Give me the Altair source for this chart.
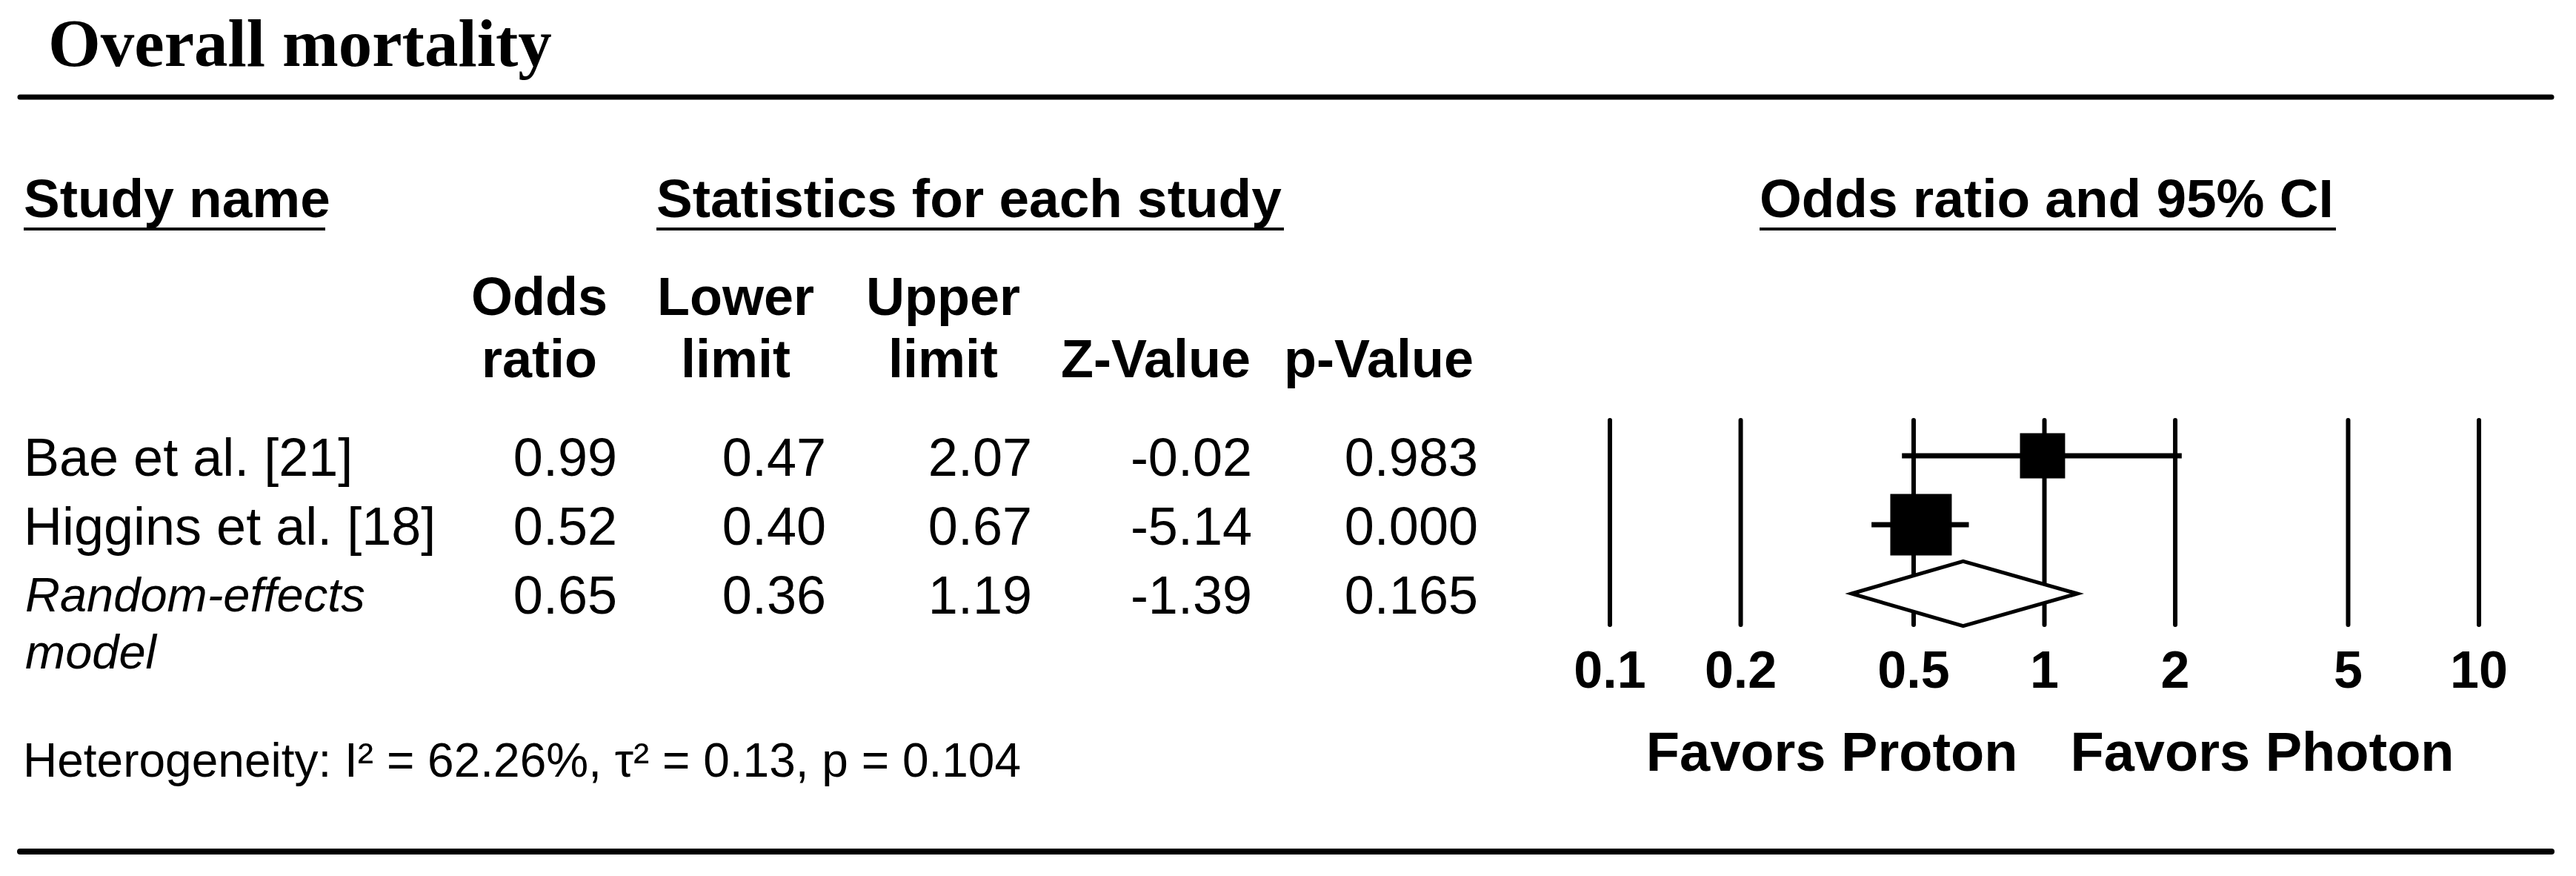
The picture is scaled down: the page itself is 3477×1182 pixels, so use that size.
import altair as alt
import pandas as pd

# ---------------- data ----------------
title_text = "Overall mortality"
study_names = ["Bae et al. [21]", "Higgins et al. [18]"]
summary_name = "Random-effects\nmodel"
odds_ratio = [0.99, 0.52, 0.65]
lower_limit = [0.47, 0.40, 0.36]
upper_limit = [2.07, 0.67, 1.19]
z_value = [-0.02, -5.14, -1.39]
p_value = [0.983, 0.000, 0.165]
rel_weight = [35.0, 65.0]          # relative weights of the two studies (square area)
tick_values = [0.1, 0.2, 0.5, 1, 2, 5, 10]
tick_labels = ["0.1", "0.2", "0.5", "1", "2", "5", "10"]
header_top = ["Odds", "Lower", "Upper", "", ""]
header_bottom = ["ratio", "limit", "limit", "Z-Value", "p-Value"]
favors_left = "Favors Proton"
favors_right = "Favors Photon"
null_value = [1.0]
heterogeneity = "Heterogeneity: I\u00b2 = 62.26%, \u03c4\u00b2 = 0.13, p = 0.104"

# ---------------- style / layout ----------------
SANS = "Liberation Sans"
SERIF = "Liberation Serif"
W, H = 3461, 1160
DIAMOND_HALF = 0.47   # half height of the summary diamond, in row units

x_scale = alt.Scale(type="log", domain=[0.1, 10], range=[2165, 3338], nice=False)
y_scale = alt.Scale(domain=[0, 2], range=[607, 793], nice=False, zero=False)

rows = list(range(len(odds_ratio)))
vals = pd.DataFrame({
    "row": rows,
    "or_s": [f"{v:.2f}" for v in odds_ratio],
    "lo_s": [f"{v:.2f}" for v in lower_limit],
    "hi_s": [f"{v:.2f}" for v in upper_limit],
    "z_s": [f"{v:.2f}" for v in z_value],
    "p_s": [f"{v:.3f}" for v in p_value],
})
studies_df = pd.DataFrame({
    "row": rows[:2], "name": study_names,
    "or": odds_ratio[:2], "lower": lower_limit[:2], "upper": upper_limit[:2],
    "weight": rel_weight,
})
summary_df = pd.DataFrame({"row": [2], "name": [summary_name]})
diamond_df = pd.DataFrame({
    "dx": [lower_limit[2], odds_ratio[2], upper_limit[2]],
    "ylo": [2, 2 - DIAMOND_HALF, 2],
    "yhi": [2, 2 + DIAMOND_HALF, 2],
})
ticks_df = pd.DataFrame({"tick": tick_values, "label": tick_labels})
null_df = pd.DataFrame({"v": null_value})
one = pd.DataFrame({"k": [0]})

X = lambda f: alt.X(f, scale=x_scale, axis=None)
Y = lambda f: alt.Y(f, scale=y_scale, axis=None)

layers = []

# title and horizontal rules
layers.append(alt.Chart(one).mark_text(text=title_text, font=SERIF, fontSize=91, fontWeight="bold",
                                       align="left", baseline="alphabetic", color="black")
              .encode(x=alt.value(57), y=alt.value(81)))
for yv, sw in [(123, 7), (1141, 8)]:
    layers.append(alt.Chart(one).mark_rule(color="black", strokeWidth=sw, strokeCap="round")
                  .encode(x=alt.value(19), x2=alt.value(3436), y=alt.value(yv)))

# section headers with underlines
for txt, x0, x1 in [("Study name", 24, 431), ("Statistics for each study", 878, 1725),
                    ("Odds ratio and 95% CI", 2367, 3145)]:
    layers.append(alt.Chart(one).mark_text(text=txt, font=SANS, fontSize=73, fontWeight="bold",
                                           align="left", baseline="alphabetic", color="black")
                  .encode(x=alt.value(x0), y=alt.value(285)))
    layers.append(alt.Chart(one).mark_rule(color="black", strokeWidth=4)
                  .encode(x=alt.value(x0), x2=alt.value(x1), y=alt.value(301)))

# column headers
col_centers = [720, 985, 1265, 1552, 1853]
for top, bot, cx in zip(header_top, header_bottom, col_centers):
    if top:
        layers.append(alt.Chart(one).mark_text(text=top, font=SANS, fontSize=72, fontWeight="bold",
                                               align="center", baseline="alphabetic", color="black")
                      .encode(x=alt.value(cx), y=alt.value(417)))
    layers.append(alt.Chart(one).mark_text(text=bot, font=SANS, fontSize=72, fontWeight="bold",
                                           align="center", baseline="alphabetic", color="black")
                  .encode(x=alt.value(cx), y=alt.value(501)))

# study names
layers.append(alt.Chart(studies_df).mark_text(font=SANS, fontSize=72, align="left",
                                              baseline="alphabetic", dy=27, color="black")
              .encode(x=alt.value(24), y=Y("row:Q"), text="name:N"))
layers.append(alt.Chart(summary_df).mark_text(font=SANS, fontSize=65, fontStyle="italic", align="left",
                                              baseline="alphabetic", dy=24, lineBreak="\n",
                                              lineHeight=77, color="black")
              .encode(x=alt.value(26), y=Y("row:Q"), text="name:N"))

# numeric columns
col_right = [825, 1107, 1385, 1682, 1987]
for field, xr in zip(["or_s", "lo_s", "hi_s", "z_s", "p_s"], col_right):
    layers.append(alt.Chart(vals).mark_text(font=SANS, fontSize=72, align="right",
                                            baseline="alphabetic", dy=27, color="black")
                  .encode(x=alt.value(xr), y=Y("row:Q"), text=f"{field}:N"))

# forest plot: reference lines
layers.append(alt.Chart(ticks_df).mark_rule(color="black", strokeWidth=6, strokeCap="round")
              .encode(x=X("tick:Q"), y=alt.value(559), y2=alt.value(835)))
# CI lines
layers.append(alt.Chart(studies_df).mark_rule(color="black", strokeWidth=7)
              .encode(x=X("lower:Q"), x2="upper:Q", y=Y("row:Q")))
# squares
layers.append(alt.Chart(studies_df).mark_point(shape="square", filled=True, opacity=1,
                                               color="black", strokeWidth=0)
              .encode(x=X("or:Q"), y=Y("row:Q"),
                      size=alt.Size("weight:Q", scale=alt.Scale(domain=[0, 65], range=[0, 6889]),
                                    legend=None)))
# diamond
layers.append(alt.Chart(diamond_df).mark_area(fill="white", stroke="black", strokeWidth=5,
                                              opacity=1, fillOpacity=1, strokeJoin="miter")
              .encode(x=X("dx:Q"), y=Y("ylo:Q"), y2="yhi:Q"))
# tick labels
layers.append(alt.Chart(ticks_df).mark_text(font=SANS, fontSize=70, fontWeight="bold",
                                            align="center", baseline="alphabetic", color="black")
              .encode(x=X("tick:Q"), y=alt.value(920), text="label:N"))
# favors labels
layers.append(alt.Chart(null_df).mark_text(text=favors_left, font=SANS, fontSize=74, fontWeight="bold",
                                           align="right", baseline="alphabetic", dx=-36, color="black")
              .encode(x=X("v:Q"), y=alt.value(1032)))
layers.append(alt.Chart(null_df).mark_text(text=favors_right, font=SANS, fontSize=74, fontWeight="bold",
                                           align="left", baseline="alphabetic", dx=35, color="black")
              .encode(x=X("v:Q"), y=alt.value(1032)))

# heterogeneity
layers.append(alt.Chart(one).mark_text(text=heterogeneity, font=SANS, fontSize=64, align="left",
                                       baseline="alphabetic", color="black")
              .encode(x=alt.value(23), y=alt.value(1040)))

chart = (alt.layer(*layers)
         .properties(width=W, height=H, padding=0, background="white",
                     autosize=alt.AutoSizeParams(type="none"))
         .configure_view(stroke=None))

chart.save("out.html", embed_options={"renderer": "svg", "actions": False})
